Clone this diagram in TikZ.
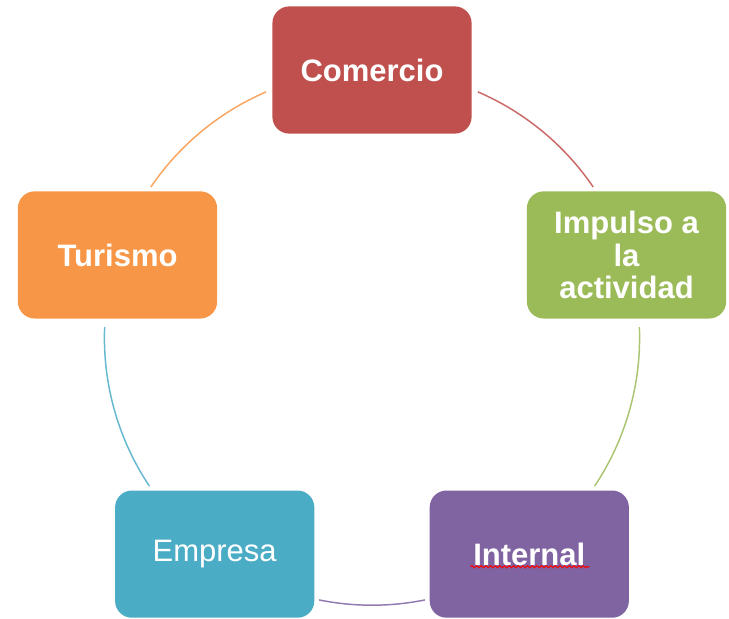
\documentclass[tikz,border=0pt]{standalone}
\usepackage{fontspec}
\setmainfont{Liberation Sans}
\usetikzlibrary{calc,decorations.pathmorphing}
\definecolor{comred}{HTML}{C0504D}
\definecolor{impgreen}{HTML}{9BBB59}
\definecolor{intpurple}{HTML}{8064A2}
\definecolor{empblue}{HTML}{4BACC6}
\definecolor{turorange}{HTML}{F79646}
\begin{document}
\begin{tikzpicture}
 \tikzset{box/.style={rounded corners=0.28cm, minimum width=3.32cm, minimum height=2.12cm, text=white, align=center, font=\fontsize{14.7}{15.6}\selectfont\bfseries}}
 \tikzset{ring/.style={line width=0.7pt}}
  \useasboundingbox (0,0) rectangle (12.15,-10.3);
  \def\R{4.46}
  \coordinate (ctr) at (6.2,-5.627);
  \node[box, fill=comred] (com) at ($(ctr)+(90:\R)$) {Comercio};
  \node[box, fill=impgreen] (imp) at ($(ctr)+(18:\R)$) {Impulso a\\la\\actividad};
  \node[box, fill=intpurple] (int) at ($(ctr)+(-54:\R)$) {Internal};
  \node[box, fill=empblue, font=\fontsize{14.7}{15.6}\selectfont] (emp) at ($(ctr)+(-126:\R)$) {Empresa};
  \node[box, fill=turorange] (tur) at ($(ctr)+(162:\R)$) {Turismo};
  \draw[ring, comred!85] (ctr) ++(66.7:\R) arc[start angle=66.7, end angle=34.25, radius=\R];
  \draw[ring, impgreen!85] (ctr) ++(2.27:\R) arc[start angle=2.27, end angle=-33.7, radius=\R];
  \draw[ring, intpurple!85] (ctr) ++(-78.6:\R) arc[start angle=-78.6, end angle=-101.4, radius=\R];
  \draw[ring, empblue!85] (ctr) ++(-146.3:\R) arc[start angle=-146.3, end angle=-182.27, radius=\R];
  \draw[ring, turorange!85] (ctr) ++(145.75:\R) arc[start angle=145.75, end angle=113.3, radius=\R];
  \draw[red, line width=0.5pt, decorate, decoration={snake, amplitude=0.5pt, segment length=2.2pt}] ($(int)+(-0.98,-0.21)$) -- ($(int)+(1.0,-0.21)$);
\end{tikzpicture}
\end{document}
